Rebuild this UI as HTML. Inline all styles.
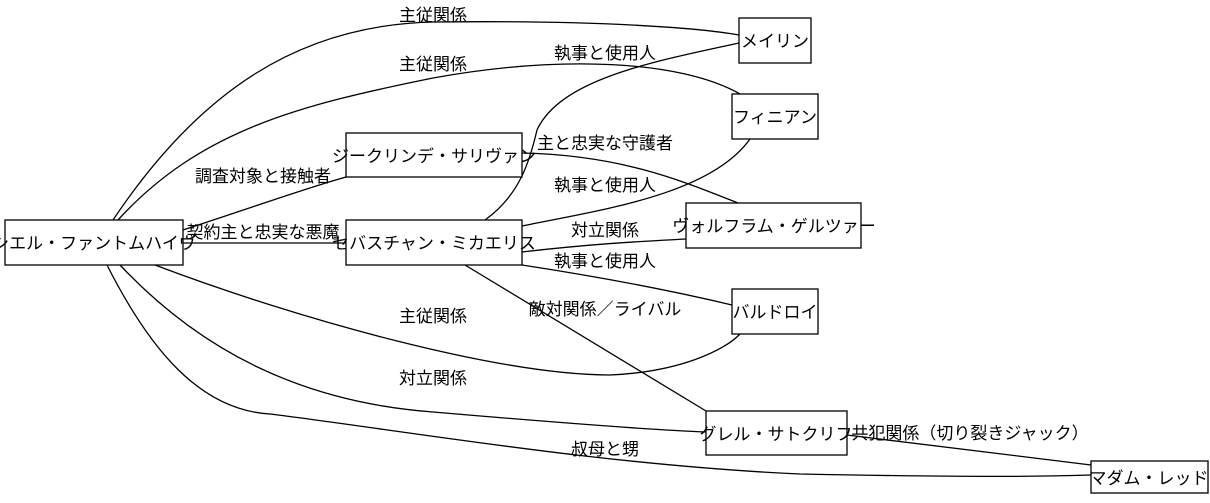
<!DOCTYPE html>
<html><head><meta charset="utf-8"><style>
body{margin:0;background:#fff;width:1210px;height:498px;overflow:hidden}
svg text{font-family:"Liberation Sans","Noto Sans CJK JP",sans-serif;font-size:17px;fill:#000}
</style></head><body>
<svg width="1210" height="498" viewBox="0 0 1210 498">
<g fill="none" stroke="#000" stroke-width="1.3">
<path d="M113,220 C200,90 300,25 433,22 C600,20 700,28 739,35"/>
<path d="M118,220 C200,130 300,105 433,78 C560,55 680,60 740,94"/>
<path d="M183,230 C260,205 300,190 346,177"/>
<path d="M183,243 L346,243"/>
<path d="M485,220 C520,195 530,160 537,130 C560,80 650,62 739,43"/>
<path d="M522,153 C620,155 680,180 738,203"/>
<path d="M522,226 C600,210 710,195 750,139"/>
<path d="M522,252 C600,243 650,241 686,239"/>
<path d="M522,265 C620,280 690,295 732,305"/>
<path d="M465,265 L706,411"/>
<path d="M155,265 C300,320 500,375 610,375 C680,372 725,350 740,334"/>
<path d="M120,265 C200,350 300,402 433,412 C550,422 650,430 706,432"/>
<path d="M107,265 C150,350 200,410 270,414 C400,430 600,465 800,474 C1000,478 1060,476 1091,475"/>
<path d="M847,435 L1091,465"/>
</g>
<g fill="#fff" stroke="#000" stroke-width="1.3">
<rect x="5" y="220" width="178" height="45"/>
<rect x="346" y="220" width="176" height="45"/>
<rect x="346" y="133" width="176" height="44"/>
<rect x="739" y="18" width="72" height="45"/>
<rect x="732" y="94" width="86" height="45"/>
<rect x="686" y="203" width="175" height="45"/>
<rect x="732" y="289" width="86" height="45"/>
<rect x="706" y="411" width="141" height="44"/>
<rect x="1091" y="461" width="117" height="32"/>
</g>
<g text-anchor="middle">
<text x="94" y="249">シエル・ファントムハイヴ</text>
<text x="434" y="249">セバスチャン・ミカエリス</text>
<text x="434" y="162">ジークリンデ・サリヴァン</text>
<text x="775" y="47">メイリン</text>
<text x="775" y="123">フィニアン</text>
<text x="774" y="232">ヴォルフラム・ゲルツァー</text>
<text x="775" y="318">バルドロイ</text>
<text x="776" y="440">グレル・サトクリフ</text>
<text x="1149" y="484">マダム・レッド</text>
<text x="433" y="21">主従関係</text>
<text x="433" y="70">主従関係</text>
<text x="263" y="182">調査対象と接触者</text>
<text x="263" y="238">契約主と忠実な悪魔</text>
<text x="605" y="59">執事と使用人</text>
<text x="605" y="149">主と忠実な守護者</text>
<text x="605" y="191">執事と使用人</text>
<text x="605" y="236">対立関係</text>
<text x="605" y="267">執事と使用人</text>
<text x="605" y="315">敵対関係／ライバル</text>
<text x="433" y="322">主従関係</text>
<text x="433" y="384">対立関係</text>
<text x="605" y="455">叔母と甥</text>
<text x="970" y="439">共犯関係（切り裂きジャック）</text>
</g>
</svg>
</body></html>
